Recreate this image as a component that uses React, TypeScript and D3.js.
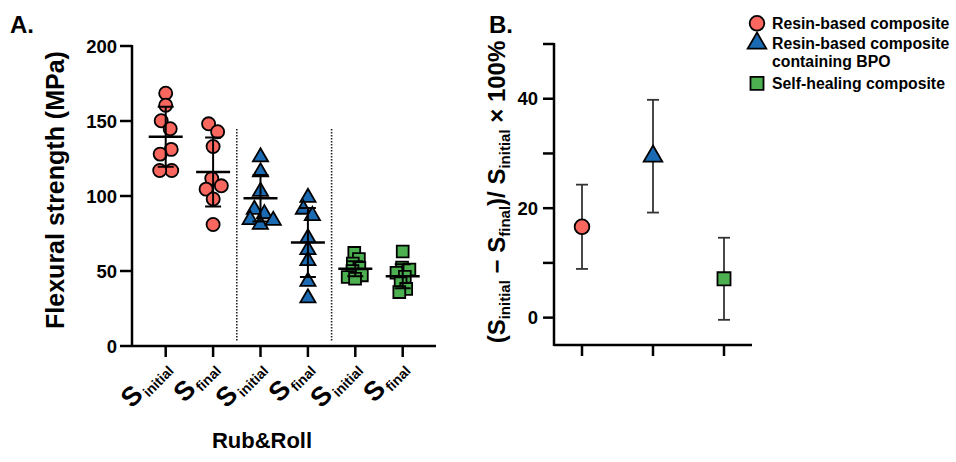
import * as d3 from 'd3';
import React, { useRef, useEffect } from 'react';

// panel A: flexural strength, 8 specimens per group
const subLabels = ["initial", "final", "initial", "final", "initial", "final"];
const resinInitial = [168, 161, 150, 145, 131, 128, 117, 117];
const resinFinal = [148, 143, 133, 111, 107, 105, 98, 81];
const bpoInitial = [126, 116, 103, 90, 88, 85, 81, 84];
const bpoFinal = [99, 91, 87, 72, 64, 57, 43, 32];
const healInitial = [62, 58, 55, 52, 50, 47, 46, 45];
const healFinal = [63, 52, 51, 49, 46, 42, 38, 36];
const groupMeans = [139.5, 116, 98.5, 69, 51.5, 46.5];
const groupSD = [20, 23, 15.5, 23, 5, 8];
const groupSeries = [0, 0, 1, 1, 2, 2];
const yTicksA = [0, 50, 100, 150, 200];

// panel B: strength loss %
const seriesNames = ["Resin-based composite", "Resin-based composite", "Self-healing composite"];
const lossMean = [16.6, 29.5, 7.1];
const lossErr = [7.7, 10.3, 7.5];
const yTicksB = [0, 10, 20, 30, 40, 50];
const yLabelsB = [0, 20, 40];

const colors = ["#F9675F", "#1A6BB3", "#4CAF50"];
const shapes = [d3.symbolCircle, d3.symbolTriangle, d3.symbolSquare];
const font = '"Liberation Sans", Arial, sans-serif';

function swarm(values, cx, y, r) {
    const nodes = values.map(v => ({ x: cx, y: y(v), ty: y(v) }));
    const sim = d3.forceSimulation(nodes)
        .force("x", d3.forceX(cx).strength(0.05))
        .force("y", d3.forceY(d => d.ty).strength(1))
        .force("c", d3.forceCollide(r))
        .stop();
    sim.tick(200);
    return nodes;
}

function App() {
    const ref = useRef(null);

    useEffect(() => {
        draw();
    });

    const draw = () => {
        const svg = d3.select(ref.current);
        svg.selectAll("*").remove();
        svg.style("font-family", font).style("font-weight", "bold");

        // ---------- panel A ----------
        const groups = [resinInitial, resinFinal, bpoInitial, bpoFinal, healInitial, healFinal];
        const yA = d3.scaleLinear().domain([0, 200]).range([346, 46]);
        const xA = d3.scalePoint().domain(d3.range(6)).range([165.7, 402.7]);
        const axisX0 = 132;

        svg.append("text").attr("x", 10).attr("y", 33).style("font-size", "24px").text("A.");

        const gA = svg.append("g");
        gA.append("line").attr("x1", axisX0).attr("x2", axisX0).attr("y1", yA(200) - 1).attr("y2", yA(0) + 1)
            .attr("stroke", "black").attr("stroke-width", 2.5);
        gA.append("line").attr("x1", axisX0).attr("x2", 436).attr("y1", yA(0)).attr("y2", yA(0))
            .attr("stroke", "black").attr("stroke-width", 2.5);

        yTicksA.forEach(t => {
            gA.append("line").attr("x1", axisX0 - 12).attr("x2", axisX0).attr("y1", yA(t)).attr("y2", yA(t))
                .attr("stroke", "black").attr("stroke-width", 2.5);
            gA.append("text").attr("x", axisX0 - 15).attr("y", yA(t) + 6.5)
                .attr("text-anchor", "end").style("font-size", "18.5px").text(t);
        });

        subLabels.forEach((s, i) => {
            const x = xA(i);
            gA.append("line").attr("x1", x).attr("x2", x).attr("y1", yA(0)).attr("y2", yA(0) + 11)
                .attr("stroke", "black").attr("stroke-width", 2.5);
            const t = gA.append("text")
                .attr("transform", `translate(${x + 6},${369}) rotate(-45)`)
                .attr("text-anchor", "end");
            t.append("tspan").style("font-size", "27px").text("S");
            t.append("tspan").style("font-size", "14px").attr("dx", 2).attr("dy", 4).text(s);
        });

        gA.append("text").attr("x", 262).attr("y", 448).attr("text-anchor", "middle")
            .style("font-size", "22px").text("Rub&Roll");

        gA.append("text")
            .attr("transform", `translate(64,${yA(100) - 6}) rotate(-90)`)
            .attr("text-anchor", "middle").style("font-size", "25px")
            .text("Flexural strength (MPa)");

        // dotted separators
        [(xA(1) + xA(2)) / 2, (xA(3) + xA(4)) / 2].forEach(x => {
            gA.append("line").attr("x1", x).attr("x2", x).attr("y1", 129).attr("y2", 341)
                .attr("stroke", "#222").attr("stroke-width", 1.6).attr("stroke-dasharray", "1.6,1.4");
        });

        const sizesA = [135, 100, 140];
        const collideA = [6, 5.5, 3.8];
        groups.forEach((vals, i) => {
            const si = groupSeries[i];
            const nodes = swarm(vals, xA(i), yA, collideA[si]);
            gA.append("g").selectAll("path").data(nodes).enter().append("path")
                .attr("transform", d => `translate(${d.x},${d.y})`)
                .attr("d", d3.symbol().type(shapes[si]).size(sizesA[si]))
                .attr("fill", colors[si]).attr("stroke", "black").attr("stroke-width", 1.8);

            const m = groupMeans[i], sd = groupSD[i], x = xA(i);
            const eg = gA.append("g").attr("stroke", "black").attr("stroke-width", 2);
            eg.append("line").attr("x1", x).attr("x2", x).attr("y1", yA(m + sd)).attr("y2", yA(m - sd));
            eg.append("line").attr("x1", x - 8).attr("x2", x + 8).attr("y1", yA(m + sd)).attr("y2", yA(m + sd));
            eg.append("line").attr("x1", x - 8).attr("x2", x + 8).attr("y1", yA(m - sd)).attr("y2", yA(m - sd));
            eg.append("line").attr("x1", x - 17).attr("x2", x + 17).attr("y1", yA(m)).attr("y2", yA(m))
                .attr("stroke-width", 2.5);
        });

        // ---------- panel B ----------
        const yB = d3.scaleLinear().domain([-5, 50]).range([345, 44]);
        const xB = d3.scalePoint().domain(d3.range(3)).range([582, 724]);
        const bx0 = 554;

        svg.append("text").attr("x", 489).attr("y", 33).style("font-size", "24px").text("B.");

        const gB = svg.append("g");
        gB.append("line").attr("x1", bx0).attr("x2", bx0).attr("y1", yB(50) - 1).attr("y2", yB(-5) + 1)
            .attr("stroke", "black").attr("stroke-width", 2.5);
        gB.append("line").attr("x1", bx0).attr("x2", 752).attr("y1", yB(-5)).attr("y2", yB(-5))
            .attr("stroke", "black").attr("stroke-width", 2.5);
        yTicksB.forEach(t => {
            gB.append("line").attr("x1", bx0 - 11).attr("x2", bx0).attr("y1", yB(t)).attr("y2", yB(t))
                .attr("stroke", "black").attr("stroke-width", 2.5);
        });
        yLabelsB.forEach(t => {
            gB.append("text").attr("x", bx0 - 16).attr("y", yB(t) + 6.5)
                .attr("text-anchor", "end").style("font-size", "18.5px").text(t);
        });
        lossMean.forEach((m, i) => {
            const x = xB(i);
            gB.append("line").attr("x1", x).attr("x2", x).attr("y1", yB(-5)).attr("y2", yB(-5) + 11)
                .attr("stroke", "black").attr("stroke-width", 2.5);
            const e = lossErr[i];
            const eg = gB.append("g").attr("stroke", "#333").attr("stroke-width", 1.8);
            eg.append("line").attr("x1", x).attr("x2", x).attr("y1", yB(m + e)).attr("y2", yB(m - e));
            eg.append("line").attr("x1", x - 6).attr("x2", x + 6).attr("y1", yB(m + e)).attr("y2", yB(m + e));
            eg.append("line").attr("x1", x - 6).attr("x2", x + 6).attr("y1", yB(m - e)).attr("y2", yB(m - e));
        });
        const sizesB = [170, 150, 170];
        gB.append("g").selectAll("path").data(lossMean).enter().append("path")
            .attr("transform", (d, i) => `translate(${xB(i)},${yB(d)})`)
            .attr("d", (d, i) => d3.symbol().type(shapes[i]).size(sizesB[i])())
            .attr("fill", (d, i) => colors[i]).attr("stroke", "black").attr("stroke-width", 1.8);

        const tt = gB.append("text")
            .attr("transform", `translate(505,${192}) rotate(-90)`)
            .attr("text-anchor", "middle");
        const parts = [
            ["(S", 24, 0], ["initial", 15, 5], [" \u2212 S", 24, -5], ["final", 15, 5],
            [")/ S", 24, -5], ["initial", 15, 5], [" \u00d7 100%", 24, -5]
        ];
        parts.forEach(([txt, fs, dy]) => {
            tt.append("tspan").style("font-size", fs + "px").attr("dy", dy).text(txt);
        });

        // legend
        const legY = [23.3, 43.3, 83.3];
        const lg = svg.append("g");
        seriesNames.forEach((name, i) => {
            lg.append("path").attr("transform", `translate(757,${legY[i]})`)
                .attr("d", d3.symbol().type(shapes[i]).size(sizesB[i])())
                .attr("fill", colors[i]).attr("stroke", "black").attr("stroke-width", 1.8);
            lg.append("text").attr("x", 772).attr("y", legY[i] + 5.5).style("font-size", "15.8px").text(name);
        });
        lg.append("text").attr("x", 772).attr("y", 61.7 + 5.5).style("font-size", "15.8px").text("containing BPO");
    };

    return (
        <svg ref={ref} width={956} height={462}
            style={{ position: "absolute", left: 0, top: 0, background: "white" }}>
        </svg>
    );
}

export default App;
